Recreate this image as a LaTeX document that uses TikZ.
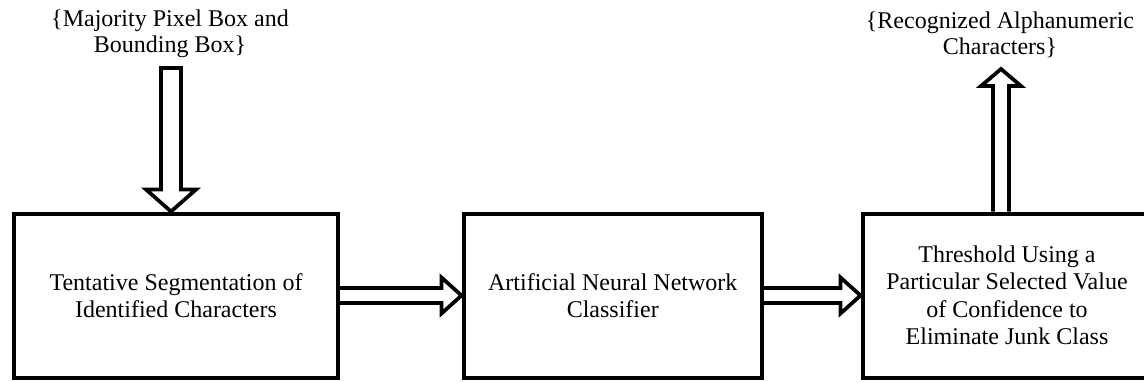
\documentclass[tikz,border=0pt]{standalone}
\usepackage{fontspec}
\setmainfont{Liberation Serif}
\usetikzlibrary{calc}
\begin{document}
\begin{tikzpicture}[x=0.75pt,y=-0.75pt,
  box/.style={draw,line width=3pt,inner sep=0pt,minimum height=164*0.75pt,align=center,
    font=\fontsize{18}{20.6}\selectfont},
  lbl/.style={align=center,inner sep=0pt,font=\fontsize{18}{19.5}\selectfont},
  fat/.style={draw,line width=2.8pt,line join=miter,miter limit=10}]
\useasboundingbox (0,0) rectangle (1144,382);
\clip (0,0) rectangle (1144,382);
\node[box,minimum width=324*0.75pt] (b1) at (176,295.5) {Tentative Segmentation of\\Identified Characters};
\node[box,minimum width=298.5*0.75pt] (b2) at (612.75,295.5) {Artificial Neural Network\\Classifier};
\node[box,minimum width=289*0.75pt] (b3) at (1007,295.5) {Threshold Using a\\Particular Selected Value\\of Confidence to\\Eliminate Junk Class};
\node[lbl] (l1) at (170,34) {\{Majority Pixel Box and\\Bounding Box\}};
\node[lbl] (l2) at (1000,35) {\{Recognized Alphanumeric\\Characters\}};
% horizontal arrows
\draw[fat] ($(b1.east)+(0,-7.5)$) -- ($(b2.west)+(-20,-7.5)$) -- ($(b2.west)+(-20,-18)$) -- (b2.west)
  -- ($(b2.west)+(-20,18)$) -- ($(b2.west)+(-20,7.5)$) -- ($(b1.east)+(0,7.5)$);
\draw[fat] ($(b2.east)+(0,-7.5)$) -- ($(b3.west)+(-20,-7.5)$) -- ($(b3.west)+(-20,-18)$) -- (b3.west)
  -- ($(b3.west)+(-20,18)$) -- ($(b3.west)+(-20,7.5)$) -- ($(b2.east)+(0,7.5)$);
% down arrow into box 1
\coordinate (dt) at (171,68);
\coordinate (dtip) at (dt |- b1.north);
\draw[fat] ($(dt)+(-10,0)$) -- ($(dtip)+(-10,-22)$) -- ($(dtip)+(-25,-22)$) -- (dtip)
  -- ($(dtip)+(25,-22)$) -- ($(dtip)+(10,-22)$) -- ($(dt)+(10,0)$) -- cycle;
% up arrow out of box 3
\coordinate (ut) at (1001,69);
\coordinate (ub) at (ut |- b3.north);
\draw[fat] ($(ub)+(-8,0)$) -- ($(ut)+(-8,17)$) -- ($(ut)+(-20,17)$) -- (ut)
  -- ($(ut)+(20,17)$) -- ($(ut)+(8,17)$) -- ($(ub)+(8,0)$);
\end{tikzpicture}
\end{document}
